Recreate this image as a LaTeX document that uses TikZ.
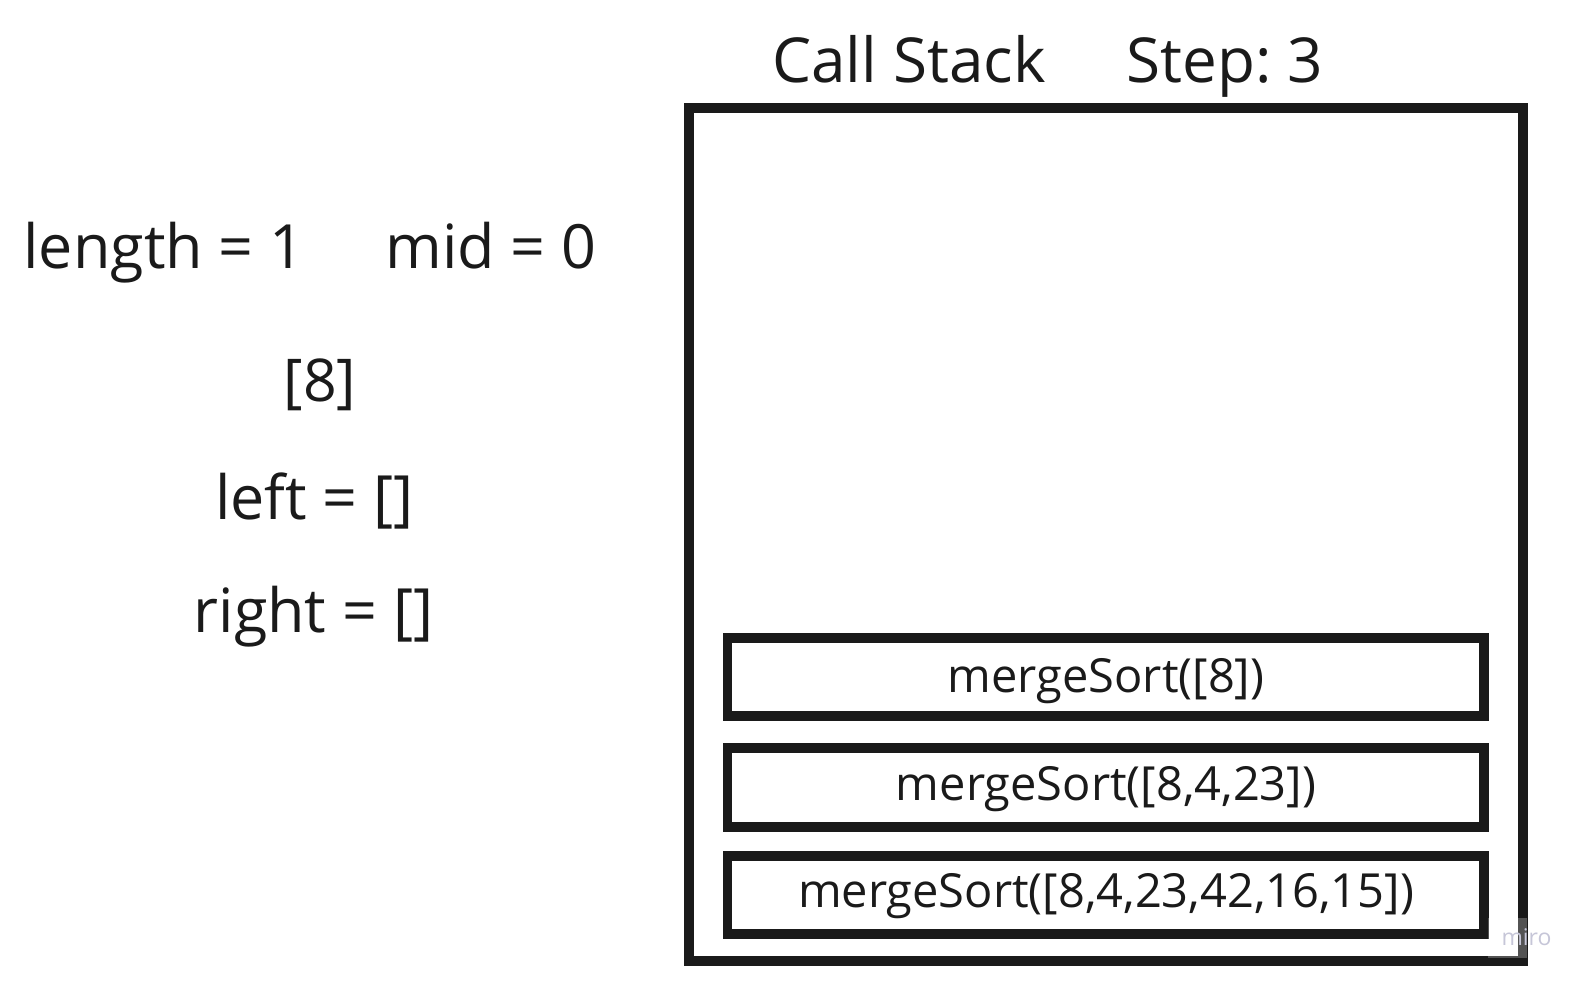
\documentclass[tikz,border=0pt]{standalone}
\usepackage{fontspec}
\setmainfont{Open Sans}
\frenchspacing
\definecolor{ink}{HTML}{1A1A1A}
\definecolor{mark}{HTML}{C6C6D8}
\begin{document}
\begin{tikzpicture}[x=0.5pt,y=-0.5pt,
  frame/.style={draw=ink, line width=5pt},
  callbox/.style={draw=ink, line width=4.75pt},
  vartext/.style={text=ink, inner sep=0pt, anchor=base, font=\fontsize{30.5}{36}\selectfont},
  headtext/.style={text=ink, inner sep=0pt, anchor=base, font=\fontsize{31}{37}\selectfont},
  calltext/.style={text=ink, inner sep=0pt, anchor=base, font=\fontsize{23.5}{28}\selectfont}]
\useasboundingbox (0,0) rectangle (1588,983);
\fill[white] (0,0) rectangle (1588,983);

% variables of the current call
\node[vartext] (len)   at (164,269)   {length = 1};
\node[vartext] (mid)   at (491,269)   {mid = 0};
\node[vartext, font=\fontsize{29.5}{35}\selectfont] (arr) at (320,402) {[8]};
\node[vartext] (left)  at (314.5,519) {left = []};
\node[vartext] (right) at (313.5,632) {right = []};

% call stack frame and header
\node[headtext] (title) at (909,83)  {Call Stack};
\node[headtext] (step)  at (1225,83) {Step: 3};
\draw[frame] (689,108) rectangle (1522.5,961);

% stacked calls, newest on top
\draw[callbox] (727.7,638) rectangle (1484,716);
\draw[callbox] (727.7,748) rectangle (1484,827);
\draw[callbox] (727.7,856) rectangle (1484,934);
\node[calltext] (c1) at (1106,692)   {mergeSort([8])};
\node[calltext] (c2) at (1106,800)   {mergeSort([8,4,23])};
\node[calltext] (c3) at (1106,907.5) {mergeSort([8,4,23,42,16,15])};

% watermark
\fill[white, opacity=0.25] (1488,918) rectangle (1527,958);
\node[text=mark, inner sep=0pt, anchor=base, font=\fontsize{11.5}{14}\selectfont] (wm) at (1526.5,945) {miro};
\end{tikzpicture}
\end{document}
